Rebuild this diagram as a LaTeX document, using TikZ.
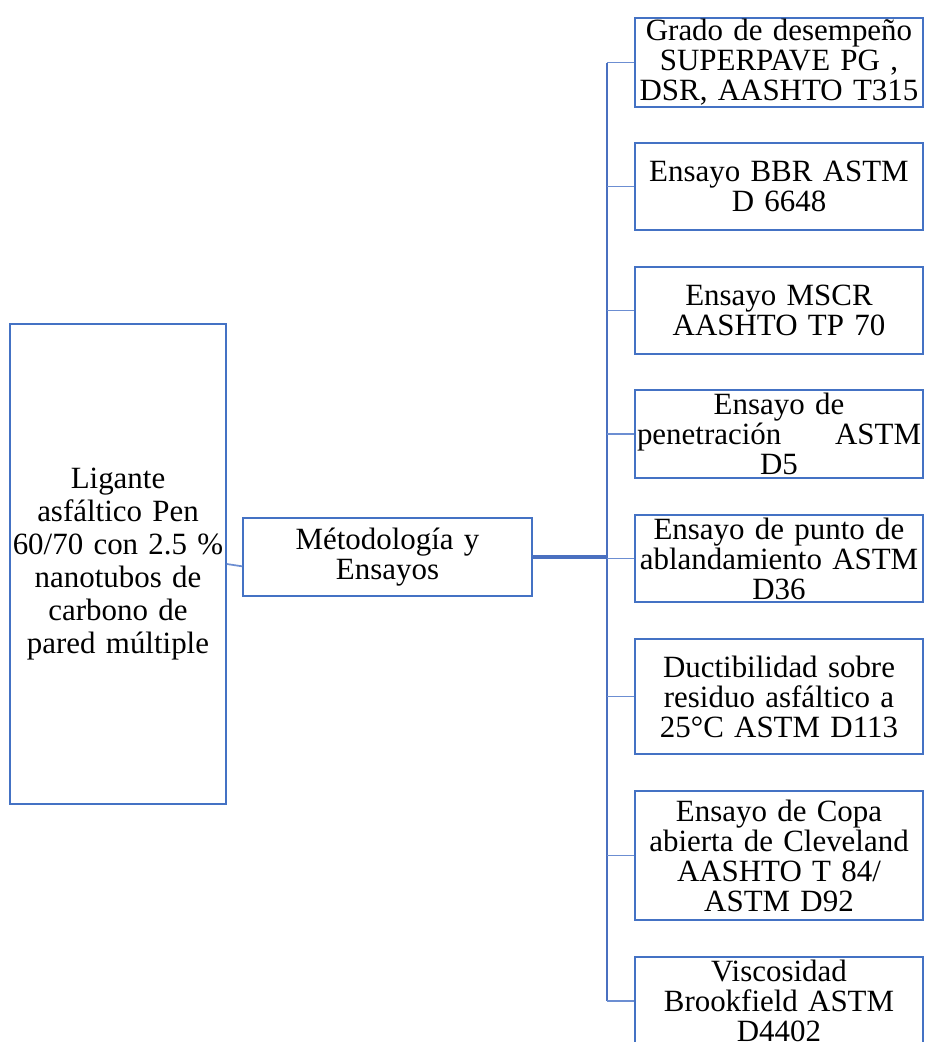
\documentclass[tikz,border=0pt]{standalone}
\usepackage{fontspec}
\setmainfont{Liberation Serif}
\definecolor{boxblue}{HTML}{4472C4}
\definecolor{linkblue}{HTML}{4A70C0}
\definecolor{branchblue}{HTML}{6C8ED2}
\newcommand\boxfont{\fontsize{23.2}{22.5}\selectfont\spaceskip=0.19em plus 0.1em minus 0.05em\relax}
\newcommand\leftfont{\fontsize{23.2}{24.75}\selectfont\spaceskip=0.19em plus 0.1em minus 0.05em\relax}
\begin{document}
\begin{tikzpicture}[x=0.75pt,y=-0.75pt,
  box/.style={draw=boxblue,line width=1.1pt,rectangle,inner sep=0pt,align=center,
    font=\boxfont},
  rbox/.style={box,minimum width=288*0.75pt,text width=288*0.75pt},
  branch/.style={draw=branchblue,line width=1.3pt},
  bus/.style={draw=linkblue,line width=1.6pt},
  main/.style={draw=linkblue,line width=2.4pt}]
\useasboundingbox (0,0) rectangle (926,1042);

\node[box,minimum width=216*0.75pt,minimum height=480*0.75pt,text width=216*0.75pt,
  font=\leftfont] (L) at (118,564)
  {Ligante\\asfáltico Pen\\60/70 con 2.5 \%\\nanotubos de\\carbono de\\pared múltiple};

\node[box,minimum width=289*0.75pt,minimum height=78*0.75pt,text width=289*0.75pt] (M) at (387.5,557)
  {Métodología y\\Ensayos};

\node[rbox,minimum height=89*0.75pt] (R1) at (779,62.5)
  {Grado de desempeño\\SUPERPAVE PG ,\\DSR, AASHTO T315};
\node[rbox,minimum height=87*0.75pt] (R2) at (779,186.5)
  {Ensayo BBR ASTM\\D 6648};
\node[rbox,minimum height=87*0.75pt] (R3) at (779,310.5)
  {Ensayo MSCR\\AASHTO TP 70};
\node[rbox,minimum height=88*0.75pt] (R4) at (779,434)
  {Ensayo de\\\leavevmode\hbox to 213pt{penetración\hfil ASTM}\\D5};
\node[rbox,minimum height=87*0.75pt] (R5) at (779,558.5)
  {Ensayo de punto de\\ablandamiento ASTM\\D36};
\node[rbox,minimum height=115*0.75pt] (R6) at (779,696.5)
  {Ductibilidad sobre\\residuo asfáltico a\\25°C ASTM D113};
\node[rbox,minimum height=129*0.75pt] (R7) at (779,855.5)
  {Ensayo de Copa\\abierta de Cleveland\\AASHTO T 84/\\ASTM D92};
\node[rbox,minimum height=88*0.75pt] (R8) at (779,1001)
  {Viscosidad\\Brookfield ASTM\\D4402};

\coordinate (bus) at (607,0);

\draw[branch] (L.east) -- ([yshift=-7pt]M.west);
\draw[main] (M.east) -- (M.east -| bus);
\draw[bus] (R1.west -| bus) -- (R8.west -| bus);
\foreach \r in {R1,R2,R3,R4,R5,R6,R7,R8}
  \draw[branch] (\r.west) -- (\r.west -| bus);
\end{tikzpicture}
\end{document}
